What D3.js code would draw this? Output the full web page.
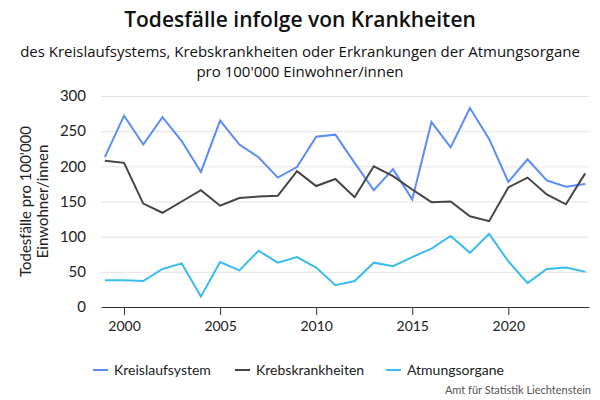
<!DOCTYPE html>
<html>
<head>
<meta charset="utf-8">
<script src="https://cdn.jsdelivr.net/npm/d3@7"></script>
<style>
  body { margin: 0; background: #fff; }
  svg { font-family: Lato, "Open Sans", sans-serif; }
</style>
</head>
<body>
<svg id="chart" width="600" height="400"></svg>
<script>
var years = d3.range(1999, 2025);
var kreislauf = [213, 272, 231, 270, 236, 192, 265, 231, 213, 184, 199, 242, 245,
    205, 166, 196, 153, 263, 227, 283, 239, 178, 210, 180, 171, 175];
var krebs = [208, 205, 147, 134, 150, 166, 144, 155, 157, 158, 193, 172, 182,
    156, 200, 186, 167, 149, 150, 129, 122, 170, 184, 160, 146, 190];
var atmung = [38, 38, 37, 54, 62, 15, 64, 52, 80, 63, 71, 56, 31,
    37, 63, 58, 71, 83, 101, 77, 104, 65, 34, 54, 56, 50];
var seriesNames = ["Kreislaufsystem", "Krebskrankheiten", "Atmungsorgane"];
var seriesColors = ["#5b8cfa", "#454545", "#3bbcf0"];
var yTicks = [0, 50, 100, 150, 200, 250, 300];
var xTicks = [2000, 2005, 2010, 2015, 2020];

var svg = d3.select("#chart");
var margin = {top: 96, right: 11, bottom: 93, left: 101};
var width = 600 - margin.left - margin.right;
var height = 400 - margin.top - margin.bottom;

var x = d3.scaleLinear().domain([1998.8, 2024.2]).range([margin.left, margin.left + width]);
var y = d3.scaleLinear().domain([0, 300]).range([margin.top + height, margin.top]);

// titles
svg.append("text")
    .attr("x", 300).attr("y", 27)
    .attr("text-anchor", "middle")
    .style("font-family", "'Open Sans', sans-serif")
    .style("font-size", "21px")
    .style("font-weight", "600")
    .attr("fill", "#111")
    .text("Todesfälle infolge von Krankheiten");
svg.append("text")
    .attr("x", 300).attr("y", 57)
    .attr("text-anchor", "middle")
    .style("font-family", "'Open Sans', sans-serif")
    .style("font-size", "15px")
    .attr("fill", "#111")
    .text("des Kreislaufsystems, Krebskrankheiten oder Erkrankungen der Atmungsorgane");
svg.append("text")
    .attr("x", 300).attr("y", 77)
    .attr("text-anchor", "middle")
    .style("font-family", "'Open Sans', sans-serif")
    .style("font-size", "15px")
    .attr("fill", "#111")
    .text("pro 100'000 Einwohner/innen");

// grid + y labels
var yAxis = svg.append("g")
    .attr("transform", "translate(" + margin.left + ",0)")
    .call(d3.axisLeft(y).tickValues(yTicks).tickSize(-width).tickPadding(15));
yAxis.select(".domain").remove();
yAxis.selectAll(".tick line").attr("stroke", "#e3e3e3").attr("stroke-width", 1);
yAxis.selectAll(".tick text")
    .style("font-size", "15px")
    .style("font-family", "Lato, sans-serif")
    .attr("fill", "#222");
yAxis.selectAll(".tick").filter(function (d) { return d === 0; }).select("line").remove();

// x axis
var xAxis = svg.append("g")
    .attr("transform", "translate(0," + (margin.top + height) + ")")
    .call(d3.axisBottom(x).tickValues(xTicks).tickFormat(d3.format("d")).tickSize(8).tickSizeOuter(0).tickPadding(6));
xAxis.select(".domain").attr("stroke", "#333");
xAxis.selectAll(".tick line").attr("stroke", "#333");
xAxis.selectAll(".tick text")
    .style("font-size", "14px")
    .style("font-family", "Lato, sans-serif")
    .attr("fill", "#222");

// y axis title
var yTitle = svg.append("text")
    .attr("transform", "translate(32," + (margin.top + height / 2) + ") rotate(-90)")
    .attr("text-anchor", "middle")
    .style("font-size", "15px")
    .attr("fill", "#222");
yTitle.append("tspan").attr("x", 0).attr("dy", "-0.1em").text("Todesfälle pro 100'000");
yTitle.append("tspan").attr("x", 0).attr("dy", "1.15em").text("Einwohner/innen");

// lines
var line = d3.line()
    .x(function (d, i) { return x(years[i]); })
    .y(function (d) { return y(d); });

[kreislauf, krebs, atmung].forEach(function (vals, i) {
    svg.append("path")
        .datum(vals)
        .attr("fill", "none")
        .attr("stroke", seriesColors[i])
        .attr("stroke-width", 2)
        .attr("stroke-linejoin", "miter")
        .attr("d", line);
});

// legend
var legendX = [93, 235, 386];
var legend = svg.append("g")
    .selectAll("g")
    .data(seriesNames)
    .enter()
    .append("g")
    .attr("transform", function (d, i) { return "translate(" + legendX[i] + ",370)"; });
legend.append("line")
    .attr("x1", 0).attr("x2", 15)
    .attr("stroke", function (d, i) { return seriesColors[i]; })
    .attr("stroke-width", 2);
legend.append("text")
    .attr("x", 21).attr("dy", "0.35em")
    .style("font-size", "14px")
    .attr("fill", "#222")
    .text(function (d) { return d; });

// source
svg.append("text")
    .attr("x", 591).attr("y", 394)
    .attr("text-anchor", "end")
    .style("font-size", "11px")
    .attr("fill", "#555")
    .text("Amt für Statistik Liechtenstein");
</script>
</body>
</html>
